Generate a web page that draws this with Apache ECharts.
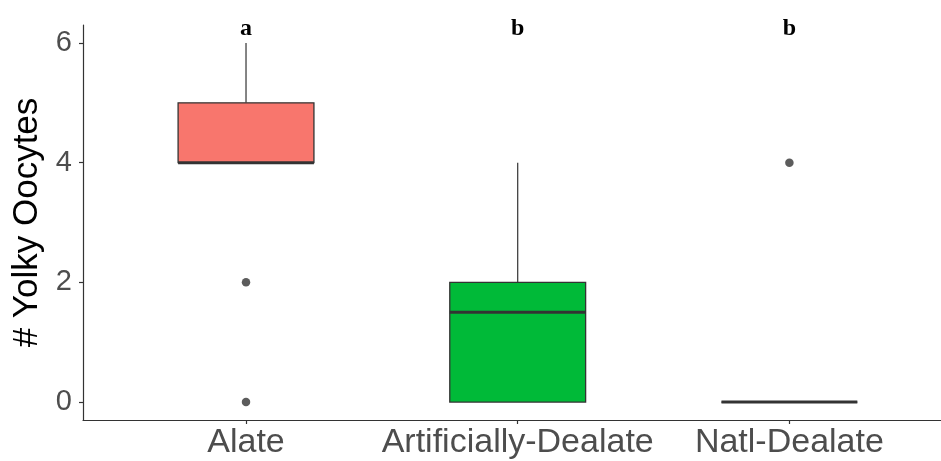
<!DOCTYPE html>
<html>
<head>
<meta charset="utf-8">
<script src="https://cdn.jsdelivr.net/npm/echarts@6/dist/echarts.min.js"></script>
<style>html,body{margin:0;padding:0;background:#fff}#c{width:941px;height:461px}</style>
</head>
<body>
<div id="c"></div>
<script>
const categories = ['Alate', 'Artificially-Dealate', 'Natl-Dealate'];
const lowWhisker = [4, 0, 0];
const q1 = [4, 0, 0];
const median = [4, 1.5, 0];
const q3 = [5, 2, 0];
const highWhisker = [6, 4, 0];
const outliers = [[0, 2], [0, 0], [2, 4]]; // [category index, value]
const letters = ['a', 'b', 'b'];
const yTicks = [0, 2, 4, 6];
const fills = ['#F8766D', '#00BA38', '#00BA38'];

const LETTER_Y = 6.03;

const boxData = categories.map((c, i) => [i + 1, lowWhisker[i], q1[i], median[i], q3[i], highWhisker[i], i]);
const outlierData = outliers.map(o => [o[0] + 1, o[1]]);
const letterData = letters.map((l, i) => [i + 1, LETTER_Y, i]);

const chart = echarts.init(document.getElementById('c'));
chart.setOption({
  animation: false,
  grid: { left: 83, right: 0, top: 25, bottom: 41, containLabel: false },
  xAxis: {
    type: 'value', min: 0.4, max: 3.558,
    splitLine: { show: false },
    axisLine: { show: true, onZero: false, lineStyle: { color: '#333', width: 1.2 } },
    axisTick: { show: true, customValues: [1, 2, 3], length: 4, lineStyle: { color: '#333', width: 1.2 } },
    axisLabel: {
      customValues: [1, 2, 3], margin: 6,
      formatter: v => categories[Math.round(v) - 1] || '',
      color: '#4d4d4d', fontSize: 34, fontFamily: 'Liberation Sans, Arial, sans-serif'
    }
  },
  yAxis: {
    type: 'value', min: -0.3, max: 6.3,
    splitLine: { show: false },
    axisLine: { show: true, onZero: false, lineStyle: { color: '#333', width: 1.2 } },
    axisTick: { show: true, customValues: yTicks, length: 4, lineStyle: { color: '#333', width: 1.2 } },
    axisLabel: {
      customValues: yTicks, margin: 11,
      color: '#4d4d4d', fontSize: 29, fontFamily: 'Liberation Sans, Arial, sans-serif'
    },
    name: '# Yolky Oocytes', nameLocation: 'middle', nameGap: 37,
    nameTextStyle: { color: '#000', fontSize: 35, fontFamily: 'Liberation Sans, Arial, sans-serif' }
  },
  series: [
    {
      type: 'custom',
      data: boxData,
      encode: { x: 0, y: [1, 2, 3, 4, 5] },
      renderItem: function (params, api) {
        const x = api.value(0);
        const idx = api.value(6);
        const w = api.size([0.5, 0])[0];
        const pLow = api.coord([x, api.value(1)]);
        const pQ1 = api.coord([x, api.value(2)]);
        const pMed = api.coord([x, api.value(3)]);
        const pQ3 = api.coord([x, api.value(4)]);
        const pHigh = api.coord([x, api.value(5)]);
        const stroke = '#333';
        return {
          type: 'group',
          children: [
            { type: 'line', shape: { x1: pQ3[0], y1: pQ3[1], x2: pHigh[0], y2: pHigh[1] }, style: { stroke: stroke, lineWidth: 1.2 } },
            { type: 'line', shape: { x1: pLow[0], y1: pLow[1], x2: pQ1[0], y2: pQ1[1] }, style: { stroke: stroke, lineWidth: 1.2 } },
            { type: 'rect', shape: { x: pQ3[0] - w / 2, y: pQ3[1], width: w, height: pQ1[1] - pQ3[1] }, style: { fill: fills[idx], stroke: stroke, lineWidth: 1.3 } },
            { type: 'line', shape: { x1: pMed[0] - w / 2, y1: pMed[1], x2: pMed[0] + w / 2, y2: pMed[1] }, style: { stroke: stroke, lineWidth: 3, lineCap: 'butt' } }
          ]
        };
      },
      z: 2
    },
    {
      type: 'scatter',
      data: outlierData,
      symbol: 'circle', symbolSize: 8.5,
      itemStyle: { color: '#333' },
      z: 3
    },
    {
      type: 'custom',
      data: letterData,
      encode: { x: 0, y: 1 },
      renderItem: function (params, api) {
        const p = api.coord([api.value(0), api.value(1)]);
        return {
          type: 'text',
          x: p[0], y: p[1],
          style: {
            text: letters[api.value(2)],
            x: 0, y: 0,
            textAlign: 'center', textVerticalAlign: 'bottom',
            fill: '#000', fontSize: 24, fontWeight: 'bold',
            fontFamily: 'Liberation Serif, Times New Roman, serif'
          }
        };
      },
      z: 4
    }
  ]
});
</script>
</body>
</html>
